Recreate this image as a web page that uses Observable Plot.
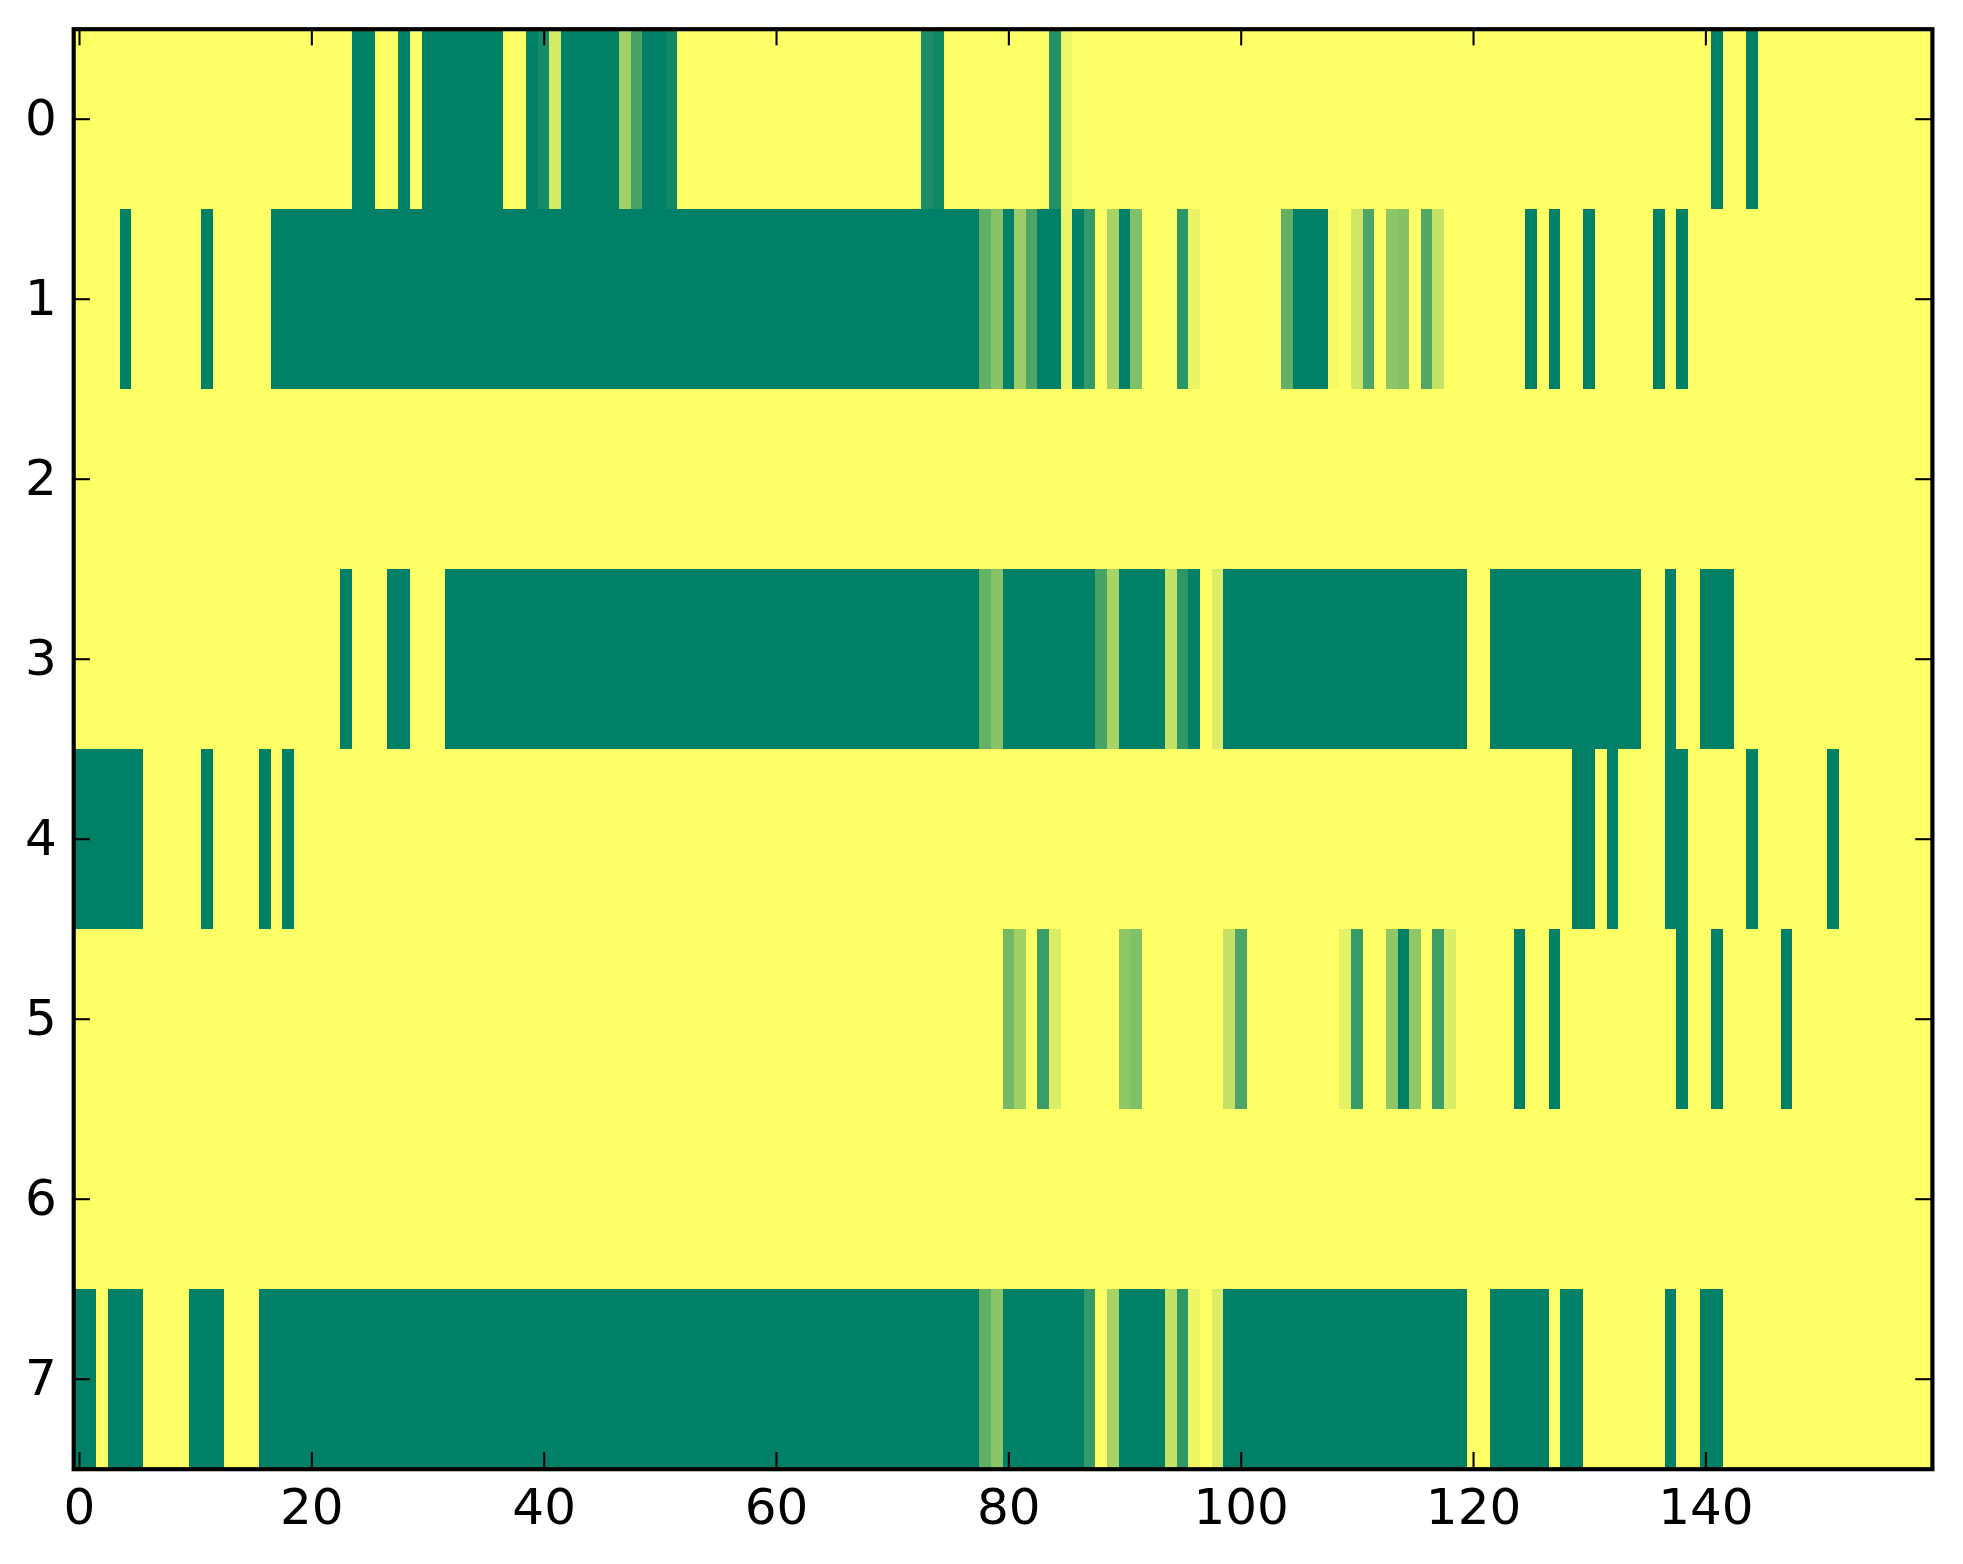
<!DOCTYPE html>
<html>
<head>
<meta charset="utf-8">
<script src="https://cdn.jsdelivr.net/npm/d3@7"></script>
<script src="https://cdn.jsdelivr.net/npm/@observablehq/plot@0.6"></script>
<style>
  html, body { margin: 0; padding: 0; background: #ffffff; }
  #chart { width: 1963px; height: 1564px; }
</style>
</head>
<body>
<div id="chart"></div>
<script>
// Grid size
const nCols = 160;
const nRows = 8;

// Non-zero runs per row: [startColumn, endColumn (inclusive), value]; all other cells are 0
const row0 = [[24,25,1],[28,28,1],[30,36,1],[39,39,1],[40,40,0.91],[41,41,0.17],[42,46,1],[47,47,0.37],[48,48,0.72],[49,50,1],[51,51,0.94],[73,73,0.9],[74,74,0.94],[84,84,0.87],[85,85,0.07],[141,141,1],[144,144,1]];
const row1 = [[4,4,1],[11,11,1],[17,77,1],[78,78,0.62],[79,79,0.47],[80,80,1],[81,81,0.39],[82,82,0.70],[83,84,1],[85,85,0.08],[86,86,1],[87,87,0.80],[89,89,0.34],[90,90,1],[91,91,0.5],[95,95,0.83],[96,96,0.09],[104,104,0.62],[105,107,1],[108,108,0.04],[110,110,0.2],[111,111,0.70],[113,113,0.45],[114,114,0.48],[116,116,0.68],[117,117,0.23],[125,125,1],[127,127,1],[130,130,1],[136,136,1],[138,138,1]];
const row2 = [];
const row3 = [[23,23,1],[27,28,1],[32,77,1],[78,78,0.61],[79,79,0.47],[80,87,1],[88,88,0.72],[89,89,0.34],[90,93,1],[94,94,0.23],[95,95,0.82],[96,96,1],[98,98,0.14],[99,119,1],[122,134,1],[137,137,1],[140,142,1]];
const row4 = [[0,5,1],[11,11,1],[16,16,1],[18,18,1],[129,130,1],[132,132,1],[137,138,1],[144,144,1],[151,151,1]];
const row5 = [[80,80,0.55],[81,81,0.37],[83,83,0.77],[84,84,0.14],[90,90,0.44],[91,91,0.5],[99,99,0.23],[100,100,0.71],[109,109,0.1],[110,110,0.79],[113,113,0.44],[114,114,1],[115,115,0.43],[117,117,0.76],[118,118,0.14],[124,124,1],[127,127,1],[138,138,1],[141,141,1],[147,147,1]];
const row6 = [];
const row7 = [[0,1,1],[3,5,1],[10,12,1],[16,77,1],[78,78,0.62],[79,79,0.46],[80,86,1],[87,87,0.80],[89,89,0.34],[90,93,1],[94,94,0.23],[95,95,0.82],[96,96,0.08],[98,98,0.14],[99,119,1],[122,126,1],[128,129,1],[137,137,1],[140,141,1]];

// Tick labels
const xTicks = [0, 20, 40, 60, 80, 100, 120, 140];
const yTicks = [0, 1, 2, 3, 4, 5, 6, 7];

// Build the cell table from the rows
const rows = [row0, row1, row2, row3, row4, row5, row6, row7];
const cells = [];
rows.forEach((runs, r) => {
  const vals = new Array(nCols).fill(0);
  runs.forEach(([a, b, v]) => { for (let c = a; c <= b; c++) vals[c] = v; });
  vals.forEach((v, c) => cells.push({row: r, col: c, value: v}));
});

// Layout
const W = 1963, H = 1564;
const mL = 73.2, mR = 31.1, mT = 28.7, mB = 95.3;
const plotW = W - mL - mR, plotH = H - mT - mB;
const tickLen = 16.7, tickW = 2.08, frameW = 4.17;

const chart = Plot.plot({
  width: W,
  height: H,
  marginLeft: mL,
  marginRight: mR,
  marginTop: mT,
  marginBottom: mB,
  style: {fontFamily: "DejaVu Sans", fontSize: "50px", color: "black", background: "white"},
  x: {domain: [-0.5, nCols - 0.5], axis: null},
  y: {domain: [-0.5, nRows - 0.5], reverse: true, axis: null},
  color: {type: "linear", domain: [0, 1], range: ["#ffff66", "#008066"], interpolate: "rgb", legend: false},
  marks: [
    Plot.rect(cells, {
      x1: d => d.col - 0.5, x2: d => d.col + 0.5,
      y1: d => d.row - 0.5, y2: d => d.row + 0.5,
      fill: "value", shapeRendering: "crispEdges"
    }),
    // inward ticks, bottom and top
    Plot.ruleX(xTicks, {x: d => d, insetTop: plotH - tickLen, stroke: "black", strokeWidth: tickW}),
    Plot.ruleX(xTicks, {x: d => d, insetBottom: plotH - tickLen, stroke: "black", strokeWidth: tickW}),
    // inward ticks, left and right
    Plot.ruleY(yTicks, {y: d => d, insetRight: plotW - tickLen, stroke: "black", strokeWidth: tickW}),
    Plot.ruleY(yTicks, {y: d => d, insetLeft: plotW - tickLen, stroke: "black", strokeWidth: tickW}),
    Plot.frame({stroke: "black", strokeWidth: frameW}),
    Plot.axisX(xTicks, {anchor: "bottom", tickSize: 0, tickPadding: 19, fontSize: 50, label: null, fill: "black", tickFormat: d => String(d)}),
    Plot.axisY(yTicks, {anchor: "left", tickSize: 0, tickPadding: 17, fontSize: 50, label: null, fill: "black", tickFormat: d => String(d)})
  ]
});
document.getElementById("chart").appendChild(chart);
</script>
</body>
</html>
